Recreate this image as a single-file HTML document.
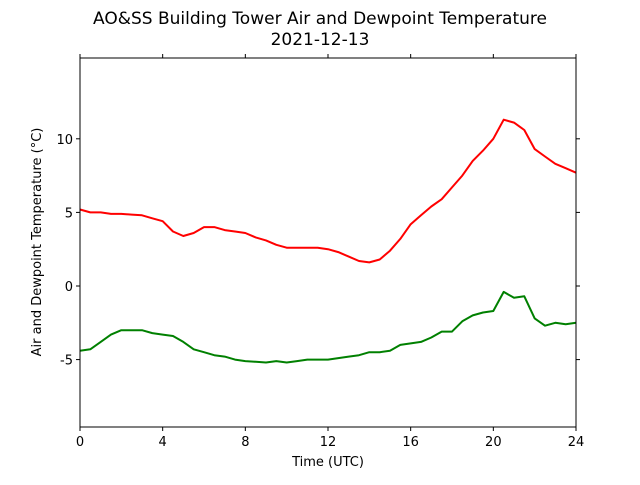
<!DOCTYPE html>
<html><head><meta charset="utf-8"><style>
body{margin:0;background:#fff;}
svg text{font-family:"DejaVu Sans","Liberation Sans",sans-serif;fill:#000;}
</style></head><body>
<svg id="chart" width="640" height="480" xmlns="http://www.w3.org/2000/svg">
<text x="320" y="24" font-size="17" text-anchor="middle">AO&amp;SS Building Tower Air and Dewpoint Temperature</text>
<text x="320" y="45" font-size="17" text-anchor="middle">2021-12-13</text>
<g id="plot"></g>
<rect x="80" y="58" width="496" height="369" fill="none" stroke="#000" stroke-width="1"/>
<text x="328" y="466" font-size="13" text-anchor="middle">Time (UTC)</text>
<text transform="translate(41,242) rotate(-90)" font-size="13" text-anchor="middle">Air and Dewpoint Temperature (°C)</text>
</svg>
<script>
const hours=[0,0.5,1,1.5,2,2.5,3,3.5,4,4.5,5,5.5,6,6.5,7,7.5,8,8.5,9,9.5,10,10.5,11,11.5,12,12.5,13,13.5,14,14.5,15,15.5,16,16.5,17,17.5,18,18.5,19,19.5,20,20.5,21,21.5,22,22.5,23,23.5,24];
const airTemp=[5.2,5.0,5.0,4.9,4.9,4.85,4.8,4.6,4.4,3.7,3.4,3.6,4.0,4.0,3.8,3.7,3.6,3.3,3.1,2.8,2.6,2.6,2.6,2.6,2.5,2.3,2.0,1.7,1.6,1.8,2.4,3.2,4.2,4.8,5.4,5.9,6.7,7.5,8.5,9.2,10.0,11.3,11.1,10.6,9.3,8.8,8.3,8.0,7.7];
const dewTemp=[-4.4,-4.3,-3.8,-3.3,-3.0,-3.0,-3.0,-3.2,-3.3,-3.4,-3.8,-4.3,-4.5,-4.7,-4.8,-5.0,-5.1,-5.15,-5.2,-5.1,-5.2,-5.1,-5.0,-5.0,-5.0,-4.9,-4.8,-4.7,-4.5,-4.5,-4.4,-4.0,-3.9,-3.8,-3.5,-3.1,-3.1,-2.4,-2.0,-1.8,-1.7,-0.4,-0.8,-0.7,-2.2,-2.7,-2.5,-2.6,-2.5];
const xTicks=[0,4,8,12,16,20,24];
const yTicks=[-5,0,5,10];
const X0=80,X1=576,Y0=58,Y1=427,XMIN=0,XMAX=24,YMIN=-9.58,YMAX=15.49;
const sx=v=>X0+(v-XMIN)/(XMAX-XMIN)*(X1-X0);
const sy=v=>Y1-(v-YMIN)/(YMAX-YMIN)*(Y1-Y0);
const NS="http://www.w3.org/2000/svg";
const g=document.getElementById('plot');
function mk(t,a){const e=document.createElementNS(NS,t);for(const k in a)e.setAttribute(k,a[k]);g.appendChild(e);return e;}
xTicks.forEach(t=>{
  const x=sx(t);
  const a=mk('line',{x1:x,x2:x,y1:Y1,y2:Y1+4,stroke:'#000'});
  
  
  const b=mk('line',{x1:x,x2:x,y1:Y0,y2:Y0-4,stroke:'#000'});
  
  
  const l=mk('text',{x:x,y:Y1+19,'font-size':13,'text-anchor':'middle'});
  l.textContent=t;
  
  
});
yTicks.forEach(t=>{
  const y=sy(t);
  const a=mk('line',{x1:X0-4,x2:X0,y1:y,y2:y,stroke:'#000'});
  
  
  const b=mk('line',{x1:X1,x2:X1+4,y1:y,y2:y,stroke:'#000'});
  
  
  const l=mk('text',{x:X0-7,y:y+5,'font-size':13,'text-anchor':'end'});
  l.textContent=t;
  
  
});
function series(vals,color,name){
  const d=hours.map((h,i)=>(i?'L':'M')+sx(h).toFixed(1)+','+sy(vals[i]).toFixed(1)).join('');
  const p=mk('path',{d:d,fill:'none',stroke:color,'stroke-width':2,'stroke-linejoin':'round'});
  
  
}
series(airTemp,'#ff0000','air-temperature-line');
series(dewTemp,'#008000','dewpoint-temperature-line');
</script>
</body></html>
